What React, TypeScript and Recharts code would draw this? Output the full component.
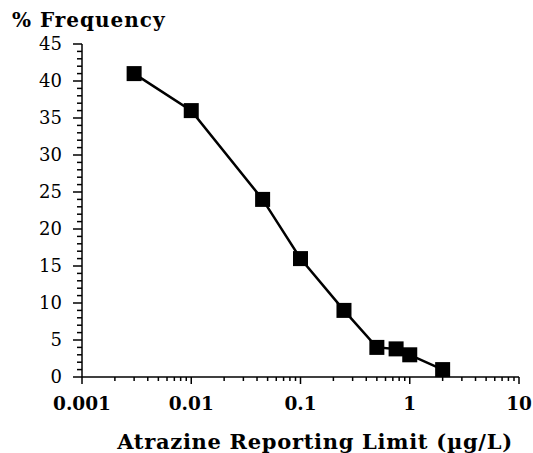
import { LineChart, Line, XAxis, YAxis, Label } from "recharts";

// reporting limit (µg/L) and % of samples at or above it
const reportingLimit = [0.003, 0.01, 0.045, 0.1, 0.25, 0.5, 0.75, 1, 2];
const frequency = [41, 36, 24, 16, 9, 4, 3.8, 3, 1];

const xMajorTicks = [0.001, 0.01, 0.1, 1, 10];
const yMajorTicks = [0, 5, 10, 15, 20, 25, 30, 35, 40, 45];

const FONT = "'DejaVu Serif', 'Liberation Serif', serif";

const data = reportingLimit.map((x, i) => ({ x, freq: frequency[i] }));

// minor log ticks 2..9 inside each decade
const xMinorTicks: number[] = [];
xMajorTicks.slice(0, -1).forEach((d) => {
  for (let m = 2; m <= 9; m++) xMinorTicks.push(+(m * d).toPrecision(3));
});
const xTicks = [...xMajorTicks, ...xMinorTicks].sort((a, b) => a - b);

const yTicks: number[] = [];
for (let v = 0; v <= 45; v++) yTicks.push(v);

const XTick = (props: any) => {
  const { x, y, payload } = props;
  const major = xMajorTicks.includes(payload.value);
  return (
    <g>
      <line x1={x} x2={x} y1={y} y2={y + (major ? 7 : 4)} stroke="#000" strokeWidth={1.5} />
      {major && (
        <text x={x} y={y + 33} textAnchor="middle" fontFamily={FONT} fontWeight="bold" fontSize={18.5} fill="#000">
          {String(payload.value)}
        </text>
      )}
    </g>
  );
};

const YTick = (props: any) => {
  const { x, y, payload } = props;
  const major = yMajorTicks.includes(payload.value);
  return (
    <g>
      <line x1={x} x2={x - (major ? 9 : 5)} y1={y} y2={y} stroke="#000" strokeWidth={1.5} />
      {major && (
        <text x={x - 20} y={y} dy="0.36em" textAnchor="end" fontFamily={FONT} fontSize={18} fill="#000">
          {payload.value}
        </text>
      )}
    </g>
  );
};

const SquareDot = (props: any) => {
  const { cx, cy, index } = props;
  return <rect key={index} x={cx - 7.5} y={cy - 7.5} width={15} height={15} fill="#000" />;
};

export default function App() {
  return (
    <div style={{ width: 533, height: 453, background: "#fff" }}>
      <style>{"body{margin:0}"}</style>
      <LineChart width={533} height={453} data={data} margin={{ top: 44, right: 14, bottom: 0, left: 0 }}>
        <XAxis
          dataKey="x"
          type="number"
          scale="log"
          domain={[0.001, 10]}
          ticks={xTicks}
          interval={0}
          tickSize={0}
          tickMargin={0}
          tickLine={false}
          tick={<XTick />}
          height={76}
          axisLine={{ stroke: "#000", strokeWidth: 1.5 }}
          allowDataOverflow
        >
          <Label
            content={() => (
              <text
                x={315}
                y={449}
                textAnchor="middle"
                fontFamily={FONT}
                fontWeight="bold"
                fontSize={21}
                letterSpacing={0.7}
                fill="#000"
              >
                Atrazine Reporting Limit (µg/L)
              </text>
            )}
          />
        </XAxis>
        <YAxis
          type="number"
          domain={[0, 45]}
          ticks={yTicks}
          interval={0}
          tickSize={0}
          tickMargin={0}
          tickLine={false}
          tick={<YTick />}
          width={82}
          axisLine={{ stroke: "#000", strokeWidth: 1.5 }}
        >
          <Label
            content={() => (
              <text x={12} y={27} fontFamily={FONT} fontWeight="bold" fontSize={20} letterSpacing={1} fill="#000">
                % Frequency
              </text>
            )}
          />
        </YAxis>
        <Line
          type="linear"
          dataKey="freq"
          stroke="#000"
          strokeWidth={2.5}
          dot={<SquareDot />}
          activeDot={false}
          isAnimationActive={false}
        />
      </LineChart>
    </div>
  );
}
